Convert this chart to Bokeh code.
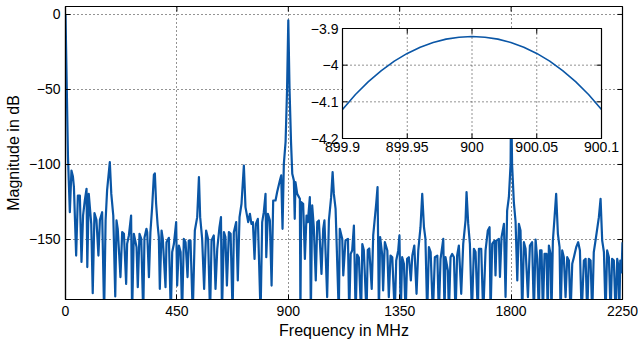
from bokeh.plotting import figure
from bokeh.models import Range1d, FixedTicker
from bokeh.core.properties import value
from bokeh.embed import file_html
from bokeh.resources import INLINE

# ---------------- data ----------------
freq_mhz = [
    0, 10, 17.5, 24, 30, 34, 43, 50, 58, 64.6, 71, 78, 85, 88, 94, 104, 110, 117, 125, 133,
    139, 148, 156, 162, 168, 179, 185, 193, 201, 206, 211, 222, 229, 236, 245, 249, 256, 265, 269, 276,
    287, 292, 299, 306, 314, 319, 327, 330, 337, 343, 350, 357, 361, 366, 372, 377, 381, 388, 393, 404,
    408, 417.5, 425.5, 431, 438, 447, 451, 458, 465, 471, 478, 485, 493, 498, 505, 514, 522.5, 532, 539, 544,
    552, 560, 568, 576, 584, 590, 599, 606, 613, 622, 628, 632, 640, 646, 652, 660, 667, 675, 680, 689.5,
    696, 703, 711, 720.5, 727, 738, 745, 751, 757, 763.6, 769, 777, 788, 794.5, 801, 808, 811, 817.5, 825.5, 832.5,
    839, 848.4, 855, 866, 871.3, 876.7, 882, 889, 895, 900, 905, 911, 916, 922.5, 926, 929, 936, 946.7, 949, 952,
    960, 967, 973.6, 979, 987, 991, 996.5, 1003, 1011, 1017, 1023.5, 1034, 1041, 1046, 1057, 1064, 1073, 1079, 1084, 1091,
    1104, 1108, 1118, 1122, 1131, 1141, 1146, 1152, 1158, 1165, 1172, 1178, 1185, 1194, 1199, 1205, 1216, 1221, 1227, 1237,
    1243, 1255, 1260.5, 1266, 1271, 1279, 1283, 1290, 1300, 1306, 1313, 1320, 1330, 1336, 1344, 1349, 1354, 1360, 1367, 1374,
    1380, 1387, 1395, 1401, 1409, 1418, 1425, 1434, 1441, 1448, 1454, 1461, 1468, 1475, 1484, 1492, 1502, 1508, 1515, 1526,
    1531, 1535, 1544.6, 1548.7, 1555.4, 1562, 1569, 1575.6, 1582, 1589, 1598.5, 1606.6, 1616, 1620, 1626.8, 1633.5, 1641.6, 1649.7, 1656.4, 1665.8,
    1670, 1679.3, 1687.4, 1696.8, 1706, 1713, 1717, 1723.7, 1733, 1737, 1741, 1750.7, 1755, 1761.4, 1771, 1777.6, 1784, 1791, 1798, 1800,
    1804, 1811, 1818, 1825, 1831.5, 1838, 1845, 1851.7, 1858.4, 1868, 1876, 1885, 1892, 1899, 1905.5, 1912, 1917, 1923, 1928.4, 1935,
    1943, 1948, 1952.7, 1959.4, 1963, 1968.8, 1975.6, 1982, 1989, 1995.8, 2000, 2006.5, 2013, 2020, 2026.7, 2033.5, 2040, 2047, 2053.7, 2063,
    2071, 2078, 2085, 2094, 2101, 2107.5, 2114, 2121, 2127.7, 2134, 2141, 2154.6, 2161.4, 2168, 2175, 2181.6, 2188, 2195, 2202, 2208,
    2215, 2222, 2228.7, 2233, 2237, 2241, 2246, 2250,
]
mag_db = [
    0, -95, -131.8, -104, -108, -115, -160.7, -120.7, -120.7, -165, -134, -124, -116.2, -168.4, -119.6, -139.6, -185.8, -132.4, -136.9, -160.7,
    -136.9, -131.8, -200, -137.3, -117.3, -98.4, -119.6, -134, -188, -137.3, -142.9, -175.1, -145.1, -146.2, -179.6, -152.9, -147.3, -134, -200, -146.2,
    -155.1, -181.8, -146.2, -149.6, -200, -148.9, -142.9, -145.1, -175.1, -145.1, -128.4, -107, -106, -126, -140, -148.4, -182.9, -144, -149.6, -181.8,
    -151.8, -148.9, -200, -158.4, -152.9, -138.4, -180.7, -154, -158.4, -200, -149.6, -151.8, -175.1, -150.7, -150.7, -200, -144, -135.1, -108.4, -135.1,
    -149.6, -182.9, -144, -149.6, -200, -150.7, -147.3, -182.9, -156.2, -141.8, -135.1, -200, -145.1, -148.4, -180.7, -145.1, -146.2, -200, -145.1, -138.4,
    -177.3, -135.1, -126.2, -100.7, -128.4, -138.4, -132.9, -139.6, -138.4, -162.9, -139.6, -136.2, -200, -138.4, -131.8, -119.6, -161.8, -132.9, -137.3, -180.7,
    -124, -124, -118.4, -110.7, -107.3, -142.9, -99.6, -85, -50, -3.9, -50, -85, -106.2, -110.7, -136.2, -111.8, -119.6, -122.9, -200, -125.1,
    -126.2, -162.9, -134, -138.4, -121.8, -200, -127.3, -141.8, -177.3, -138.4, -137.3, -172.9, -142.9, -137.3, -188.4, -137.3, -121.8, -105.1, -119.6, -129.6,
    -200, -142.9, -149.6, -174, -150.7, -149.6, -200, -159.6, -157.3, -140.7, -200, -160, -162, -200, -153, -157, -200, -157, -156, -183,
    -147.3, -126.2, -115.1, -200, -148.4, -159.6, -184, -151.8, -157.3, -188.4, -160.7, -161.8, -200, -164, -157.3, -147.3, -200, -161.8, -166.2, -200,
    -162.9, -161.8, -177.3, -160.7, -154, -186.2, -157.3, -141.8, -119.6, -141.8, -149.6, -200, -155.1, -158.4, -200, -161.8, -160.7, -200, -163, -149.6,
    -200, -161.8, -170.7, -200, -161.8, -159.6, -161.8, -200, -160.7, -154, -186.2, -152.9, -137.3, -118.4, -139.6, -152.9, -200, -156.2, -158.4, -200,
    -156.2, -156.2, -200, -157.3, -144, -141.8, -200, -152.9, -150.7, -174, -150.7, -149.6, -175, -148.4, -139.6, -188.4, -130.7, -121.8, -99.6, -50,
    -100, -125, -138, -177.3, -139.6, -144, -200, -151.8, -156.2, -188.4, -154, -151.8, -200, -150, -163, -200, -157.3, -157.3, -200, -159.6,
    -159.6, -200, -154, -159.6, -200, -150.7, -135.1, -119.6, -146.2, -155.1, -200, -157.3, -161.8, -188.4, -161.8, -164, -200, -166.2, -161.8, -155.1,
    -151.8, -157.3, -200, -164, -162.9, -200, -162.9, -164, -200, -158.4, -150.7, -135.1, -122.9, -150.7, -158.4, -200, -157.3, -161.8, -200, -162.9,
    -164, -200, -162.9, -167.3, -200, -164, -172, -151.8,
]

inset_freq_mhz = [899.90, 899.91, 899.92, 899.93, 899.94, 899.95, 899.96, 899.97, 899.98, 899.99, 900.00,
                  900.01, 900.02, 900.03, 900.04, 900.05, 900.06, 900.07, 900.08, 900.09, 900.10]
inset_mag_db = [-4.121, -4.080, -4.045, -4.015, -3.989, -3.968, -3.951, -3.938, -3.929, -3.924, -3.922,
                -3.924, -3.929, -3.938, -3.951, -3.968, -3.989, -4.015, -4.045, -4.080, -4.121]

x_ticks = [0, 450, 900, 1350, 1800, 2250]
y_ticks = [-150, -100, -50, 0]
y_tick_labels = ["\u2212150", "\u2212100", "\u221250", "0"]
inset_x_ticks = [899.9, 899.95, 900.0, 900.05, 900.1]
inset_x_labels = ["899.9", "899.95", "900", "900.05", "900.1"]
inset_y_ticks = [-4.2, -4.1, -4.0, -3.9]
inset_y_labels = ["\u22124.2", "\u22124.1", "\u22124", "\u22123.9"]

# ---------------- layout ----------------
FONT = "Liberation Sans"
FS = "14px"
FS_LABEL = "16px"
BLUE = "#0a56a6"
W, H = 638, 344
BL, BR, BT, BB = 65, 16, 6, 45
FW, FH = W - BL - BR, H - BT - BB
XR = (0, 2250)
YR = (-190, 5.3)
IX = (899.9, 900.1)
IY = (-4.2, -3.9)
# inset box in frame pixels
ix0, ix1, iy0, iy1 = 277, 536, 22, 132
sx = (IX[1] - IX[0]) / (ix1 - ix0)
sy = (IY[1] - IY[0]) / (iy1 - iy0)
TICK = 5

p = figure(width=W, height=H, x_range=Range1d(*XR), y_range=Range1d(*YR),
           output_backend="svg", toolbar_location=None,
           min_border_left=BL, min_border_right=BR, min_border_top=BT, min_border_bottom=BB)
p.extra_x_ranges = {"ix": Range1d(IX[0] - ix0 * sx, IX[1] + (FW - ix1) * sx)}
p.extra_y_ranges = {"iy": Range1d(IY[0] - (FH - iy1) * sy, IY[1] + iy0 * sy)}

p.outline_line_color = "black"
p.outline_line_width = 1.2
p.outline_line_alpha = 1
p.background_fill_color = "white"
p.border_fill_color = "white"

for ax in (p.xaxis[0], p.yaxis[0]):
    ax.axis_line_color = "black"
    ax.axis_line_width = 1.2
    ax.major_tick_line_color = "black"
    ax.major_tick_in = TICK
    ax.major_tick_out = 0
    ax.minor_tick_line_color = None
    ax.major_label_text_font = FONT
    ax.major_label_text_font_size = FS
    ax.major_label_text_color = "black"
    ax.axis_label_text_font = FONT
    ax.axis_label_text_font_size = FS_LABEL
    ax.axis_label_text_font_style = "normal"
    ax.axis_label_text_color = "black"

p.xaxis.ticker = FixedTicker(ticks=x_ticks)
p.yaxis.ticker = FixedTicker(ticks=y_ticks)
p.yaxis.major_label_overrides = {t: l for t, l in zip(y_ticks, y_tick_labels)}
p.xaxis.axis_label = "Frequency in MHz"
p.yaxis.axis_label = "Magnitude in dB"
p.xaxis.major_label_standoff = 6
p.yaxis.major_label_standoff = 5
p.xaxis.axis_label_standoff = 3
p.yaxis.axis_label_standoff = 4

for g in (p.xgrid[0], p.ygrid[0]):
    g.grid_line_color = "black"
    g.grid_line_dash = "1 3"
    g.grid_line_alpha = 0.85
    g.grid_line_width = 1

# ticks on top and right edges
dyp = (YR[1] - YR[0]) / FH
dxp = (XR[1] - XR[0]) / FW
p.segment(x0=x_ticks, y0=[YR[1]] * len(x_ticks), x1=x_ticks, y1=[YR[1] - TICK * dyp] * len(x_ticks),
          line_color="black", line_width=1)
p.segment(x0=[XR[1]] * len(y_ticks), y0=y_ticks, x1=[XR[1] - TICK * dxp] * len(y_ticks), y1=y_ticks,
          line_color="black", line_width=1)

# main spectrum
p.line(freq_mhz, mag_db, line_color=BLUE, line_width=2.2, line_join="round")

# ---------------- inset ----------------
R = dict(x_range_name="ix", y_range_name="iy")
p.quad(left=[IX[0]], right=[IX[1]], bottom=[IY[0]], top=[IY[1]], fill_color="white",
       line_color=None, **R)
inner_x = inset_x_ticks[1:-1]
inner_y = inset_y_ticks[1:-1]
p.segment(x0=inner_x, y0=[IY[0]] * len(inner_x), x1=inner_x, y1=[IY[1]] * len(inner_x),
          line_color="black", line_dash="1 3", line_alpha=0.85, line_width=1, **R)
p.segment(x0=[IX[0]] * len(inner_y), y0=inner_y, x1=[IX[1]] * len(inner_y), y1=inner_y,
          line_color="black", line_dash="1 3", line_alpha=0.85, line_width=1, **R)
n = len(inset_x_ticks)
p.segment(x0=inset_x_ticks, y0=[IY[0]] * n, x1=inset_x_ticks, y1=[IY[0] + TICK * sy] * n,
          line_color="black", **R)
p.segment(x0=inset_x_ticks, y0=[IY[1]] * n, x1=inset_x_ticks, y1=[IY[1] - TICK * sy] * n,
          line_color="black", **R)
m = len(inset_y_ticks)
p.segment(x0=[IX[0]] * m, y0=inset_y_ticks, x1=[IX[0] + TICK * sx] * m, y1=inset_y_ticks,
          line_color="black", **R)
p.segment(x0=[IX[1]] * m, y0=inset_y_ticks, x1=[IX[1] - TICK * sx] * m, y1=inset_y_ticks,
          line_color="black", **R)
p.line(inset_freq_mhz, inset_mag_db, line_color=BLUE, line_width=1.6, **R)
p.quad(left=[IX[0]], right=[IX[1]], bottom=[IY[0]], top=[IY[1]], fill_color=None,
       line_color="black", line_width=1.2, **R)
p.text(x=inset_x_ticks, y=[IY[0]] * n, text=inset_x_labels, text_align="center",
       text_baseline="top", y_offset=3, text_font=value(FONT), text_font_size=FS,
       text_color="black", **R)
p.text(x=[IX[0]] * m, y=inset_y_ticks, text=inset_y_labels, text_align="right",
       text_baseline="middle", x_offset=-4, text_font=value(FONT), text_font_size=FS,
       text_color="black", **R)

open("out.html", "w").write(file_html(p, INLINE))
